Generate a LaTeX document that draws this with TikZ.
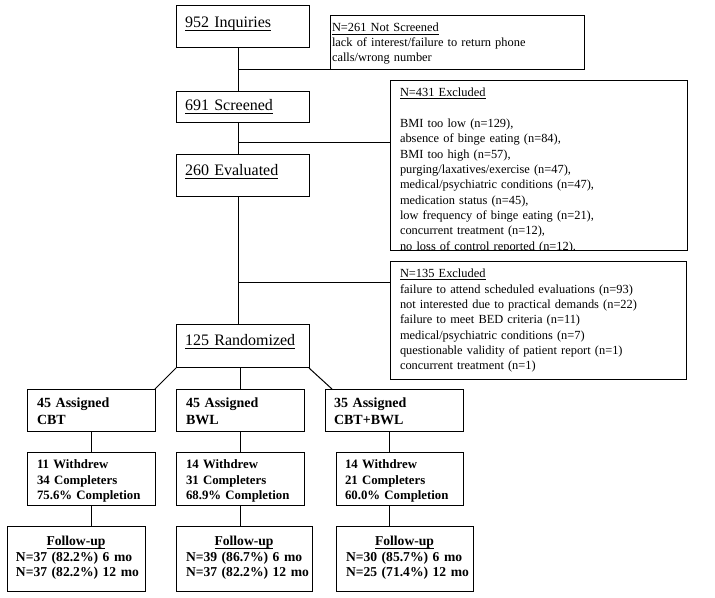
\documentclass[tikz,border=0pt]{standalone}
\usepackage{fontspec}
\setmainfont{Liberation Serif}
\newcommand{\undl}[1]{\setbox0=\hbox{#1}\rlap{\rule[-0.2em]{\wd0}{0.06em}}\box0}

\tikzset{every picture/.style={line width=0.75pt}}
\tikzset{
  flowbox/.style={draw, outer sep=0pt, inner ysep=0pt, anchor=base west, align=left},
  mainbox/.style={flowbox, inner xsep=6.75pt, text width=86.25pt, font=\fontsize{12}{14}\selectfont},
  exclbox/.style={flowbox, inner xsep=7.5pt, font=\fontsize{9.3}{11.5}\selectfont},
  armbox/.style={flowbox, font=\bfseries\fontsize{10.5}{12.45}\selectfont, text height=14pt, text depth=17.5pt},
  dropbox/.style={flowbox, font=\bfseries\fontsize{9.6}{11.5}\selectfont, text height=12pt, text depth=27.75pt},
  followbox/.style={flowbox, font=\bfseries\fontsize{10.2}{11.6}\selectfont, text height=14.25pt, text depth=34.5pt}
}

\begin{document}
\begin{tikzpicture}[x=0.75pt,y=0.75pt,yscale=-1,xscale=1]
    \useasboundingbox (0,0) rectangle (715,598);
    \coordinate (spine) at (238,0);
    \coordinate (armC) at (389,0);

    % Text Node
    \node[mainbox, text height=16.5pt, text depth=15pt] (inq) at (176,28) {\undl{952 Inquiries}};
    % Text Node
    \node[exclbox, inner xsep=1.5pt, text width=187.5pt, text height=12pt, text depth=28.5pt, font=\fontsize{9.3}{11.25}\selectfont] (ns) at (330,32)
        {\undl{N=261 Not Screened}\\ lack of interest/failure to return phone\\ calls/wrong number};
    % Text Node
    \node[mainbox, text height=14.25pt, text depth=9pt] (scr) at (176,111) {\undl{691 Screened}};
    % Text Node
    \begin{scope}
        \clip (380,70) rectangle (700,250.6);
        \node[exclbox, text width=207.75pt, text height=12.5pt, text depth=115pt] (ex431) at (390,96.7)
            {\undl{N=431 Excluded}\\[11.5pt]
            BMI too low (n=129),\\
            absence of binge eating (n=84),\\
            BMI too high (n=57),\\
            purging/laxatives/exercise (n=47),\\
            medical/psychiatric conditions (n=47),\\
            medication status (n=45),\\
            low frequency of binge eating (n=21),\\
            concurrent treatment (n=12),\\
            no loss of control reported (n=12).};
    \end{scope}
    % Text Node
    \node[mainbox, text height=15.75pt, text depth=15.75pt] (eval) at (176,176) {\undl{260 Evaluated}};
    % Text Node
    \node[exclbox, text width=207pt, text height=12.5pt, text depth=76pt] (ex135) at (390,277.7)
        {\undl{N=135 Excluded}\\
        failure to attend scheduled evaluations (n=93)\\
        not interested due to practical demands (n=22)\\
        failure to meet BED criteria (n=11)\\
        medical/psychiatric conditions (n=7)\\
        questionable validity of patient report (n=1)\\
        concurrent treatment (n=1)};
    % Text Node
    \node[mainbox, text height=15.75pt, text depth=16.5pt] (rand) at (176,346) {\undl{125 Randomized}};

    % Text Node
    \node[armbox, inner xsep=7.5pt, text width=81pt] (asgCBT) at (27,407.7) {45 Assigned\\ CBT};
    \node[armbox, inner xsep=7.5pt, text width=81pt] (asgBWL) at (176,407.7) {45 Assigned\\ BWL};
    \node[armbox, inner xsep=6.75pt, text width=90pt] (asgCmb) at (325,407.7) {35 Assigned\\ CBT+BWL};
    % Text Node
    \node[dropbox, inner xsep=7.5pt, text width=81pt] (wdCBT) at (27,469) {11 Withdrew\\ 34 Completers\\ 75.6\% Completion};
    \node[dropbox, inner xsep=7.5pt, text width=81pt] (wdBWL) at (176,469) {14 Withdrew\\ 31 Completers\\ 68.9\% Completion};
    \node[dropbox, inner xsep=6.75pt, text width=81.75pt] (wdCmb) at (336,469) {14 Withdrew\\ 21 Completers\\ 60.0\% Completion};
    % Text Node
    \node[followbox, inner xsep=6.75pt, text width=90pt] (fuCBT) at (7,546)
        {\makebox[\linewidth]{\undl{Follow-up}}\\ \mbox{N=37 (82.2\%) 6 mo}\\ \mbox{N=37 (82.2\%) 12 mo}};
    \node[followbox, inner xsep=7.5pt, text width=87pt] (fuBWL) at (176,546)
        {\makebox[\linewidth]{\undl{Follow-up}}\\ \mbox{N=39 (86.7\%) 6 mo}\\ \mbox{N=37 (82.2\%) 12 mo}};
    \node[followbox, inner xsep=7.5pt, text width=87.75pt] (fuCmb) at (336,546)
        {\makebox[\linewidth]{\undl{Follow-up}}\\ \mbox{N=30 (85.7\%) 6 mo}\\ \mbox{N=25 (71.4\%) 12 mo}};

    %Straight Lines
    \draw (inq.south -| spine) -- (scr.north -| spine);
    \draw (scr.south -| spine) -- (eval.north -| spine);
    \draw (eval.south -| spine) -- (rand.north -| spine);
    \draw (spine |- ns.south west) -- (ns.south west);
    \draw (spine |- 0,143) -- (ex431.west |- 0,143);
    \draw (spine |- 0,283) -- (ex135.west |- 0,283);
    %Straight Lines
    \draw (rand.south west) -- (asgCBT.north east);
    \draw (asgBWL.north |- rand.south) -- (asgBWL.north);
    \draw (rand.south east) -- ([xshift=5.25pt]asgCmb.north west);
    %Straight Lines
    \draw (asgCBT.south) -- (wdCBT.north);
    \draw (asgBWL.south) -- (wdBWL.north);
    \draw (armC |- asgCmb.south) -- (armC |- wdCmb.north);
    \draw (wdCBT.south) -- (wdCBT.south |- fuCBT.north);
    \draw (wdBWL.south) -- (wdBWL.south |- fuBWL.north);
    \draw (armC |- wdCmb.south) -- (armC |- fuCmb.north);

\end{tikzpicture}
\end{document}
